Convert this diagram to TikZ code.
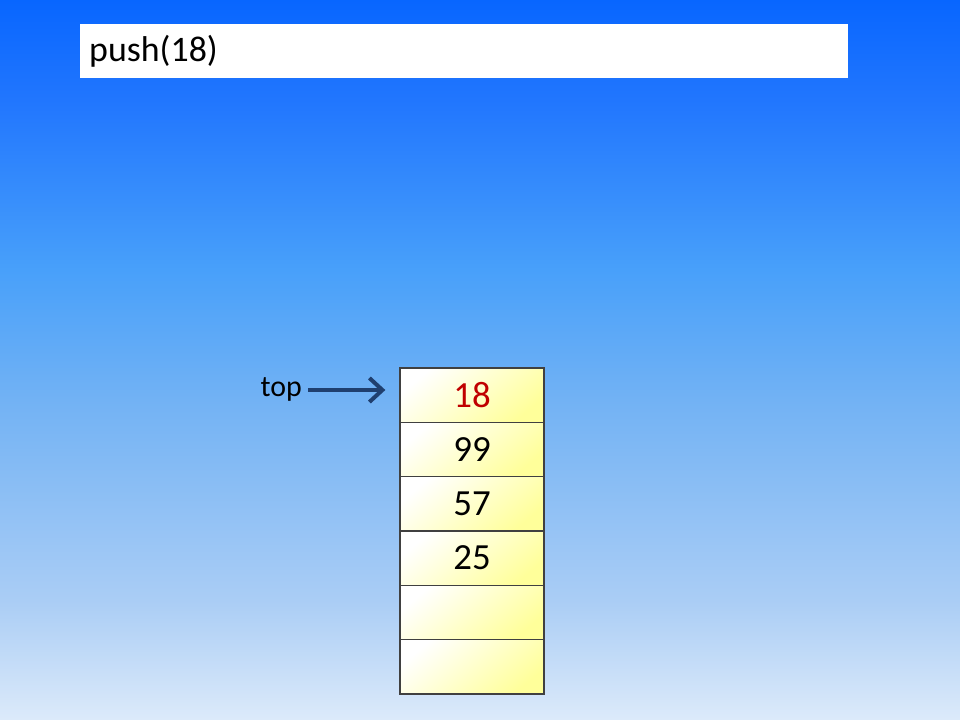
\documentclass[tikz,border=0pt]{standalone}
\usepackage{fontspec}
\setmainfont{Carlito}
\usetikzlibrary{arrows.meta}
\definecolor{skytop}{HTML}{0866FF}
\definecolor{skya}{HTML}{2176FE}
\definecolor{skyb}{HTML}{48A0FA}
\definecolor{skyc}{HTML}{72B2F4}
\definecolor{skyd}{HTML}{AACDF5}
\definecolor{skybot}{HTML}{DCEAFA}
\definecolor{navy}{HTML}{1F3F6F}
\definecolor{pushred}{HTML}{C00000}
\definecolor{cellyel}{HTML}{FFFF9A}
\pgfdeclareverticalshading{sky}{100bp}{color(0bp)=(skybot); color(25bp)=(skybot);
  color(33.33bp)=(skyd); color(47.22bp)=(skyc); color(56.25bp)=(skyb);
  color(68.06bp)=(skya); color(75bp)=(skytop); color(100bp)=(skytop)}
\tikzset{
  cellbox/.style={draw=black!75, line width=1.3bp, minimum width=144bp, minimum height=54.33bp,
    inner sep=0pt, top color=white, bottom color=cellyel, shading angle=40,
    font=\fontsize{37}{40}\selectfont},
  titlebox/.style={fill=white, minimum width=768bp, minimum height=54bp, anchor=north west,
    text width=768bp, inner sep=0pt, align=left, font=\fontsize{36}{38}\selectfont},
}
\begin{document}
\begin{tikzpicture}[x=1bp, y=-1bp, >={Straight Barb[length=13bp, width=24bp]}]
  % background
  \shade[shading=sky] (0,0) rectangle (960,720);
  \useasboundingbox (0,0) rectangle (960,720);

  \node[titlebox] (title) at (80,24) {\hspace*{9bp}push(18)};

  % the stack
  \foreach \v [count=\i] in {18,99,57,25,{},{}} {
    \node[cellbox] (cell\i) at (472, {368+27.17+54.33*(\i-1)}) {\v};
  }
  \node[cellbox, text=pushred] at (cell1) {18};

  \node[font=\fontsize{30}{32}\selectfont, anchor=east, inner sep=6bp] (toplbl) at (308,389) {top};
  \draw[->, navy, line width=4bp, shorten >=14bp] (toplbl.east |- 0,390) -- (cell1.west |- 0,390);
\end{tikzpicture}
\end{document}
